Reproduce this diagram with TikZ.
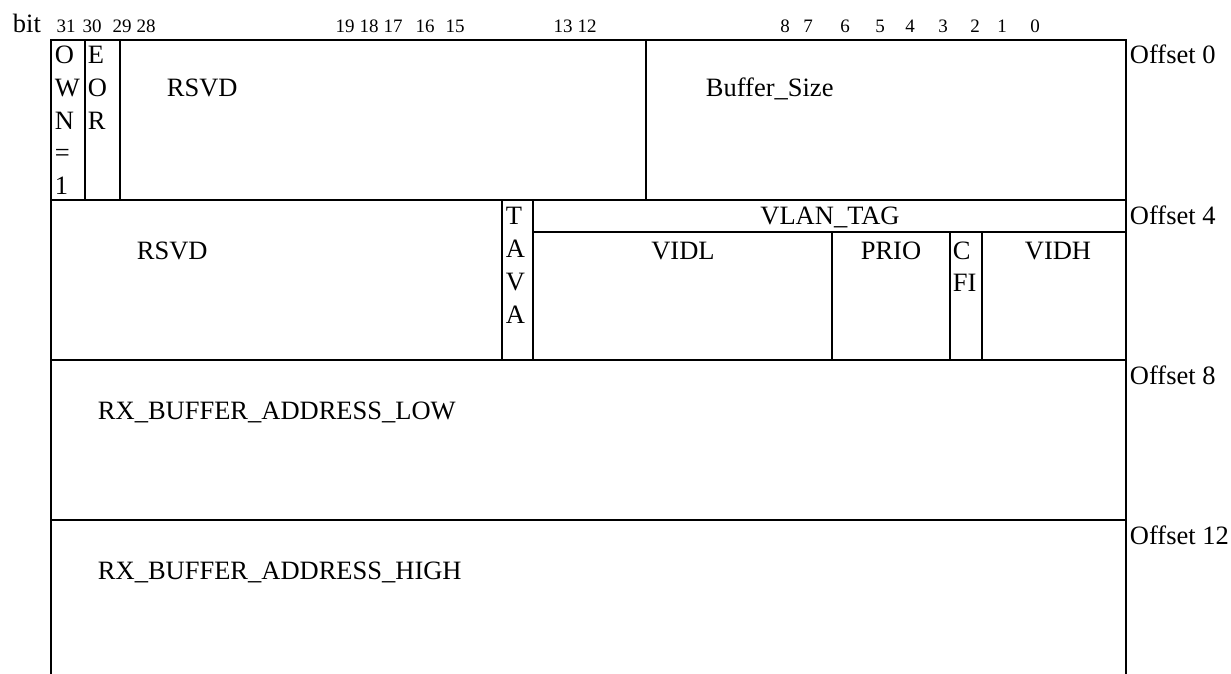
\documentclass[tikz,border=0pt]{standalone}
\usepackage{fontspec}
\setmainfont{Liberation Serif}
\usetikzlibrary{calc}

\begin{document}
\begin{tikzpicture}[x=0.5pt,y=-0.5pt,line width=0.95pt,
  txt/.style={anchor=base west,inner sep=0pt,font=\fontsize{13.25}{16}\selectfont},
  ctxt/.style={txt,anchor=base},
  bitno/.style={anchor=base,inner sep=0pt,font=\fontsize{9.5}{11}\selectfont}]
\useasboundingbox (0,0) rectangle (1231,674);
\coordinate (tl) at (51,40);
\coordinate (tr) at (1126,40);
% frame and word rows
\draw (51,674) -- (tl) -- (tr) -- (1126,674);
\foreach \y in {200,360,520} \draw (51,\y) -- (1126,\y);
% offset 0
\draw (85,40) -- (85,200);
\draw (120,40) -- (120,200);
\draw (646,40) -- (646,200);
% offset 4
\draw (502,200) -- (502,360);
\draw (533,200) -- (533,360);
\draw (533,232) -- (1126,232);
\draw (832,232) -- (832,360);
\draw (950,232) -- (950,360);
\draw (982,232) -- (982,360);
% bit numbers
\node[txt] (bit) at (12,33) {bit};
\foreach \n/\x in {31/66,30/92,29/122,28/146,19/345,18/369,17/393,16/425,15/455,
  13/563,12/587,8/785,7/808,6/845,5/880,4/910,3/943,2/975,1/1002,0/1035}
  \node[bitno] (b\n) at (\x,33) {\n};
% word fields
\foreach \ch [count=\i] in {O,W,N,=,1}
  \node[txt] (own\i) at (54,{64+32.5*(\i-1)}) {\ch};
\foreach \ch [count=\i] in {E,O,R}
  \node[txt] (eor\i) at (87,{64+32.5*(\i-1)}) {\ch};
\node[txt] (rsvd0) at (166,97) {RSVD};
\node[txt] (bufsize) at (705,97) {Buffer\_Size};
\node[txt] (rsvd1) at (136,259) {RSVD};
\foreach \ch [count=\i] in {T,A,V,A}
  \node[txt] (tava\i) at (505,{224+33*(\i-1)}) {\ch};
\node[ctxt] (vlan) at (830,224) {VLAN\_TAG};
\node[ctxt] (vidl) at (683,259) {VIDL};
\node[ctxt] (prio) at (891,259) {PRIO};
\node[txt] (cfi1) at (952,259) {C};
\node[txt] (cfi2) at (952,291) {FI};
\node[ctxt] (vidh) at (1058,259) {VIDH};
\node[txt] (addrlo) at (97,419) {RX\_BUFFER\_ADDRESS\_LOW};
\node[txt] (addrhi) at (97,579) {RX\_BUFFER\_ADDRESS\_HIGH};
% offsets
\foreach \o/\y in {0/64,4/224,8/384,12/544}
  \node[txt] (off\o) at (1129,\y) {Offset \o};
\end{tikzpicture}
\end{document}
